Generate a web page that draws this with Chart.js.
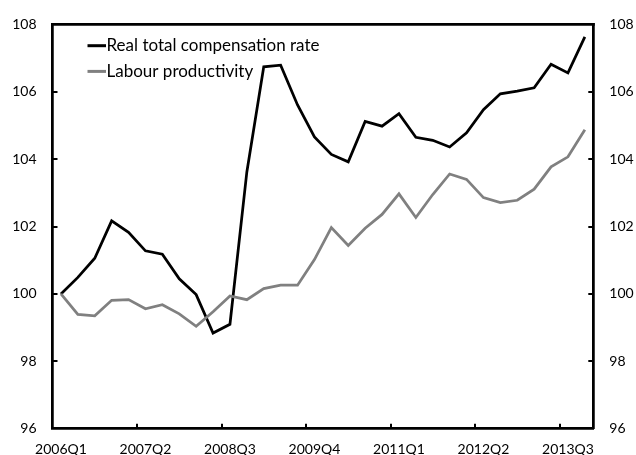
<!DOCTYPE html>
<html>
<head>
<meta charset="utf-8">
<script src="https://cdn.jsdelivr.net/npm/chart.js@4.4.0/dist/chart.umd.min.js"></script>
<style>
html,body{margin:0;padding:0;background:#fff;}
#wrap{width:636px;height:455px;}
</style>
</head>
<body>
<div id="wrap"><canvas id="c" width="636" height="455"></canvas></div>
<script>
const quarters = [
  '2006Q1','2006Q2','2006Q3','2006Q4',
  '2007Q1','2007Q2','2007Q3','2007Q4',
  '2008Q1','2008Q2','2008Q3','2008Q4',
  '2009Q1','2009Q2','2009Q3','2009Q4',
  '2010Q1','2010Q2','2010Q3','2010Q4',
  '2011Q1','2011Q2','2011Q3','2011Q4',
  '2012Q1','2012Q2','2012Q3','2012Q4',
  '2013Q1','2013Q2','2013Q3','2013Q4'
];
const tickLabels = ['2006Q1','2007Q2','2008Q3','2009Q4','2011Q1','2012Q2','2013Q3'];
const yTickValues = [96, 98, 100, 102, 104, 106, 108];
const seriesNames = ['Real total compensation rate', 'Labour productivity'];

const compensation = [100.0, 100.49, 101.06, 102.17, 101.83, 101.28, 101.18, 100.45,
  99.98, 98.84, 99.10, 103.62, 106.74, 106.79, 105.61, 104.66,
  104.14, 103.92, 105.12, 104.98, 105.35, 104.65, 104.56, 104.36,
  104.78, 105.47, 105.94, 106.02, 106.12, 106.82, 106.56, 107.63];
const productivity = [100.0, 99.39, 99.35, 99.81, 99.83, 99.56, 99.68, 99.41,
  99.04, 99.47, 99.94, 99.83, 100.16, 100.26, 100.26, 101.02,
  101.97, 101.44, 101.95, 102.36, 102.97, 102.27, 102.95, 103.56,
  103.40, 102.86, 102.71, 102.78, 103.11, 103.77, 104.07, 104.87];

const FONT = 'Lato';

const framePlugin = {
  id: 'frame',
  afterDraw(chart) {
    const {ctx, chartArea: a, scales} = chart;
    ctx.save();
    ctx.strokeStyle = '#000';
    ctx.lineCap = 'butt';
    ctx.lineWidth = 2.75;
    ctx.beginPath();
    ctx.moveTo(a.left - 1.4, a.top);
    ctx.lineTo(a.right + 1.4, a.top);
    ctx.stroke();
    ctx.lineWidth = 2;
    // inward x tick marks at category boundaries
    quarters.forEach((q, i) => {
      if (i > 0 && tickLabels.includes(q)) {
        const x = Math.round(scales.x.getPixelForValue(i - 0.5));
        ctx.beginPath();
        ctx.moveTo(x, a.bottom);
        ctx.lineTo(x, a.bottom - 5);
        ctx.stroke();
      }
    });
    // inward y tick marks on both sides
    yTickValues.forEach(v => {
      if (v === yTickValues[0] || v === yTickValues[yTickValues.length - 1]) return;
      const y = Math.round(scales.y.getPixelForValue(v));
      ctx.beginPath();
      ctx.moveTo(a.left, y); ctx.lineTo(a.left + 5, y);
      ctx.moveTo(a.right, y); ctx.lineTo(a.right - 5, y);
      ctx.stroke();
    });
    ctx.restore();
  }
};

const legendPlugin = {
  id: 'innerLegend',
  afterDraw(chart) {
    const {ctx, chartArea: a} = chart;
    ctx.save();
    chart.data.datasets.forEach((ds, i) => {
      const y = a.top + 21.3 + i * 25.7;
      ctx.strokeStyle = ds.borderColor;
      ctx.lineWidth = 3;
      ctx.beginPath();
      ctx.moveTo(a.left + 35, y);
      ctx.lineTo(a.left + 53.5, y);
      ctx.stroke();
      ctx.fillStyle = '#000';
      ctx.font = '17px ' + FONT;
      ctx.textBaseline = 'alphabetic';
      ctx.textAlign = 'left';
      ctx.fillText(ds.label, a.left + 54, y + 5.5);
    });
    ctx.restore();
  }
};

const axisFont = {family: FONT, size: 14};

new Chart(document.getElementById('c'), {
  type: 'line',
  data: {
    labels: quarters,
    datasets: [
      {label: seriesNames[0], data: compensation, borderColor: '#000000', borderWidth: 2.75,
       pointRadius: 0, tension: 0, fill: false, borderJoinStyle: 'miter', order: 1, yAxisID: 'y'},
      {label: seriesNames[1], data: productivity, borderColor: '#808080', borderWidth: 2.75,
       pointRadius: 0, tension: 0, fill: false, borderJoinStyle: 'miter', order: 0, yAxisID: 'y'}
    ]
  },
  options: {
    responsive: false,
    animation: false,
    devicePixelRatio: 1,
    layout: {padding: {top: 22, left: 0, right: 0, bottom: 0}},
    plugins: {legend: {display: false}, tooltip: {enabled: false}},
    scales: {
      x: {
        type: 'category',
        offset: true,
        grid: {display: false, drawTicks: false},
        border: {display: true, color: '#000', width: 2.75},
        ticks: {
          autoSkip: false, maxRotation: 0, minRotation: 0, padding: 12,
          font: axisFont, color: '#000',
          callback: (val, idx) => tickLabels.includes(quarters[idx]) ? quarters[idx] : ''
        },
        afterFit: s => { s.height = 26.3; }
      },
      y: {
        position: 'left', min: 96, max: 108,
        grid: {display: false, drawTicks: false},
        border: {display: true, color: '#000', width: 2.75},
        ticks: {stepSize: 2, padding: 16, font: axisFont, color: '#000'},
        afterFit: s => { s.width = 52.5; }
      },
      y2: {
        position: 'right', min: 96, max: 108,
        grid: {display: false, drawTicks: false},
        border: {display: true, color: '#000', width: 2.75},
        ticks: {stepSize: 2, padding: 16, font: axisFont, color: '#000'},
        afterFit: s => { s.width = 42.7; }
      }
    }
  },
  plugins: [framePlugin, legendPlugin]
});
</script>
</body>
</html>
